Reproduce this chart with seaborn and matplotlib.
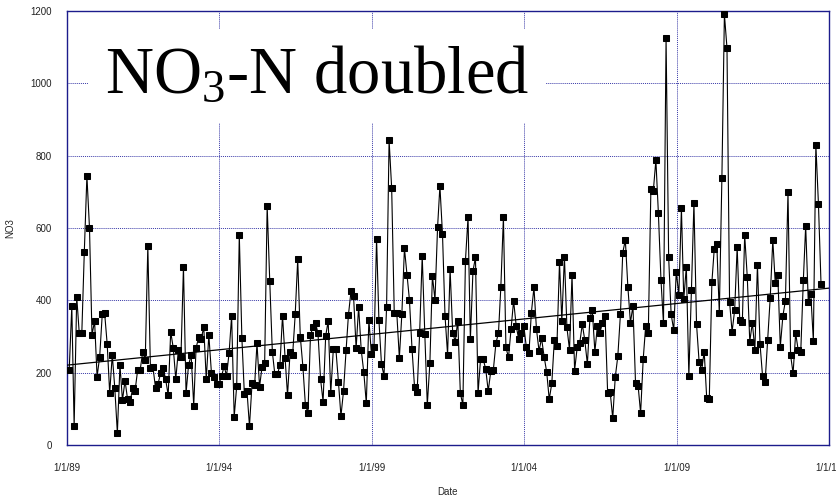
import numpy as np
import pandas as pd
import seaborn as sns
import matplotlib.pyplot as plt
import matplotlib.dates as mdates
from matplotlib.ticker import MultipleLocator

# monthly NO3 readings, Jan 1989 onwards
no3 = [
    207, 384, 52, 410, 310, 310, 535, 744, 600, 304,
    343, 189, 244, 362, 366, 279, 144, 249, 158, 33,
    221, 124, 178, 127, 120, 158, 150, 207, 207, 258,
    235, 550, 214, 216, 158, 169, 198, 212, 182, 138,
    313, 268, 182, 263, 244, 493, 143, 221, 249, 109,
    268, 298, 292, 327, 182, 304, 200, 189, 169, 169,
    191, 218, 191, 255, 357, 78, 163, 581, 296, 140,
    150, 52, 171, 166, 281, 161, 217, 226, 661, 453,
    258, 195, 195, 221, 358, 240, 138, 258, 249, 361,
    513, 300, 217, 111, 89, 304, 327, 336, 309, 182,
    120, 301, 343, 143, 266, 266, 175, 80, 149, 263,
    360, 426, 413, 267, 382, 263, 201, 115, 346, 252,
    270, 570, 346, 223, 192, 382, 843, 710, 364, 366,
    241, 362, 544, 470, 401, 265, 160, 147, 309, 523,
    307, 111, 228, 468, 401, 602, 716, 583, 358, 250,
    486, 311, 286, 344, 143, 111, 510, 630, 292, 481,
    519, 143, 238, 238, 210, 149, 205, 207, 281, 311,
    436, 630, 270, 242, 320, 399, 330, 292, 309, 330,
    270, 255, 366, 436, 320, 260, 295, 244, 201, 126,
    171, 290, 274, 505, 343, 521, 325, 263, 470, 206,
    270, 281, 334, 290, 224, 352, 373, 258, 329, 311,
    338, 358, 143, 147, 74, 187, 246, 361, 532, 567,
    438, 338, 385, 171, 164, 88, 237, 330, 309, 707,
    702, 788, 641, 456, 336, 1126, 519, 361, 318, 479,
    415, 654, 403, 493, 191, 429, 670, 334, 230, 207,
    258, 130, 128, 450, 541, 556, 364, 739, 1191, 1098,
    396, 313, 373, 547, 346, 341, 581, 465, 286, 338,
    263, 498, 279, 191, 175, 290, 407, 567, 449, 470,
    272, 357, 399, 699, 249, 198, 309, 263, 258, 456,
    606, 396, 418, 288, 830, 666, 444,
]
dates = pd.date_range('1989-01-28', periods=len(no3), freq=pd.DateOffset(months=1))

tick_dates = pd.to_datetime(['1989-01-01', '1994-01-01', '1999-01-01',
                             '2004-01-01', '2009-01-01', '2014-01-01'])
tick_labels = ['1/1/89', '1/1/94', '1/1/99', '1/1/04', '1/1/09', '1/1/14']

df = pd.DataFrame({'Date': dates, 'NO3': no3})
df['num'] = mdates.date2num(df['Date'])

sns.set_style('white')
plt.rcParams['font.family'] = ['Liberation Sans', 'DejaVu Sans']

navy = '#1c1c8c'
fig = plt.figure(figsize=(8.37, 4.98), dpi=100)
ax = fig.add_axes([0.080, 0.1064, 0.9104, 0.8715])

xmin, xmax = mdates.date2num(tick_dates[0]), mdates.date2num(tick_dates[-1])
ax.set_xlim(xmin, xmax)
ax.set_ylim(0, 1200)

# grid
ax.set_xticks(mdates.date2num(tick_dates))
ax.set_xticklabels(tick_labels)
ax.yaxis.set_major_locator(MultipleLocator(200))
ax.yaxis.set_minor_locator(MultipleLocator(100))
ax.grid(True, which='major', color='#3a3aa8', linestyle=(0, (1, 1)), linewidth=0.7)
ax.set_axisbelow(True)

sns.lineplot(data=df, x='num', y='NO3', ax=ax, color='black', linewidth=0.8,
             marker='s', markersize=5, markeredgecolor='black',
             markerfacecolor='black', zorder=3)

# linear trend
sns.regplot(data=df, x='num', y='NO3', ax=ax, scatter=False, ci=None,
            truncate=False, line_kws={'color': 'black', 'linewidth': 0.9, 'zorder': 4})

ax.set_xlim(xmin, xmax)
ax.set_ylim(0, 1200)

for s in ax.spines.values():
    s.set_color(navy)
    s.set_linewidth(1.0)
    s.set_visible(True)

ax.tick_params(axis='both', which='both', direction='out', color=navy,
               length=8, width=1.0, labelsize=7, pad=3, labelcolor='#222222')
ax.tick_params(axis='x', length=10)

ax.set_xlabel('Date', fontsize=7, labelpad=10)
ax.set_ylabel('NO3', fontsize=7, labelpad=11)

ax.text(0.328, 0.850, r'$\mathregular{NO_3}$-N doubled', transform=ax.transAxes,
        ha='center', va='center', fontsize=48, family='Liberation Serif',
        color='black', zorder=5,
        bbox=dict(facecolor='white', edgecolor='none', boxstyle='square,pad=0.25'))

fig.savefig('out.png', dpi=100)
